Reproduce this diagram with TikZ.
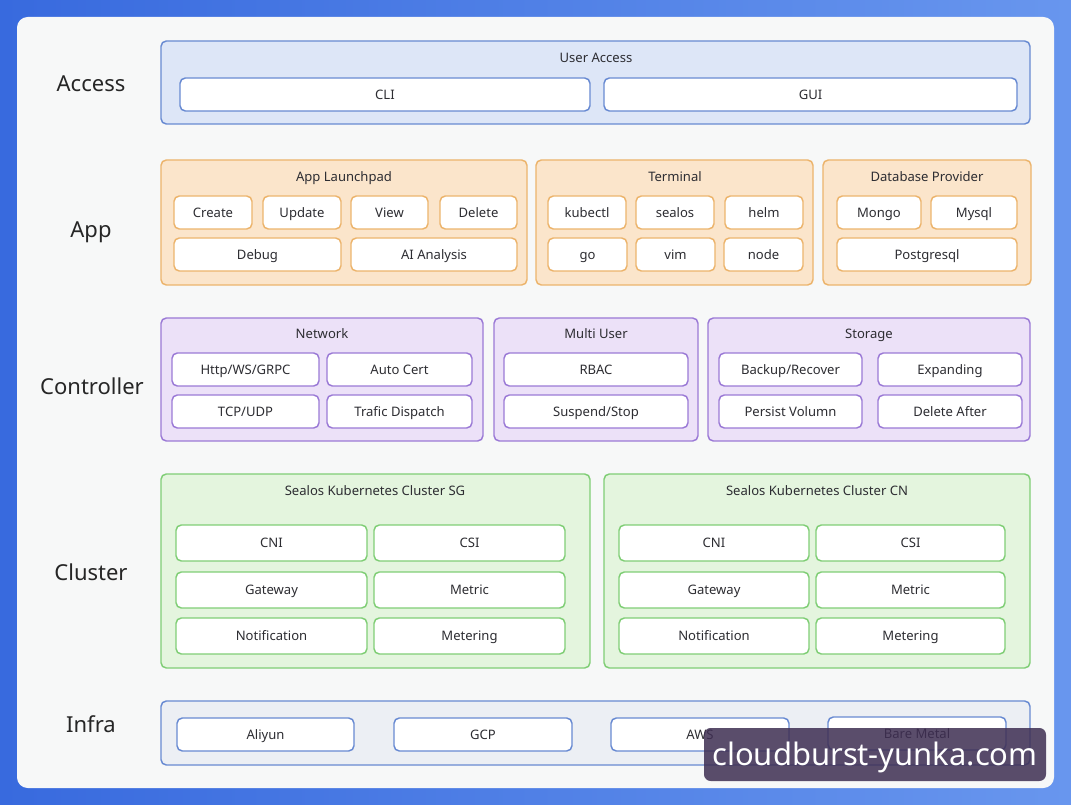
\documentclass[tikz,border=0pt]{standalone}
\usepackage{fontspec}
\setmainfont{Noto Sans}
\definecolor{bgL}{RGB}{56,106,222}
\definecolor{bgR}{RGB}{104,150,238}
\definecolor{panel}{RGB}{247,248,248}
\definecolor{txt}{RGB}{45,45,50}
\definecolor{blueF}{RGB}{221,230,247}
\definecolor{blueD}{RGB}{104,138,210}
\definecolor{orangeF}{RGB}{251,229,203}
\definecolor{orangeD}{RGB}{236,180,108}
\definecolor{purpleF}{RGB}{236,225,248}
\definecolor{purpleD}{RGB}{155,122,214}
\definecolor{greenF}{RGB}{228,245,222}
\definecolor{greenD}{RGB}{128,206,118}
\definecolor{infraF}{RGB}{236,239,244}
\definecolor{infraD}{RGB}{104,138,210}
\definecolor{wmark}{RGB}{62,46,82}
\newcommand\bx[7]{%
  \pgfmathsetmacro\bxcx{(#2+#4)/2}%
  \pgfmathsetmacro\bxcy{(#3+#5)/2}%
  \pgfmathsetmacro\bxw{(#4-#2)*0.75}%
  \pgfmathsetmacro\bxh{(#5-#3)*0.75}%
  \node[#6, minimum width=\bxw pt, minimum height=\bxh pt] (#1) at (\bxcx,\bxcy) {#7};}
\tikzset{
  x=0.75pt, y=-0.75pt,
  every node/.style={text=txt, font=\fontsize{9.8}{12}\selectfont, text height=7pt, text depth=0pt},
  grp/.style={draw=#1D, fill=#1F, line width=1.1pt, rounded corners=4pt, inner sep=0pt, outer sep=0pt},
  ibox/.style={draw=#1D, fill=white, line width=1.1pt, rounded corners=4pt, inner sep=0pt, outer sep=0pt},
  gtitle/.style={font=\fontsize{9.8}{12}\selectfont},
  layer/.style={font=\fontsize{16.5}{19}\selectfont, text=black!85, text height=11.8pt},
}
\begin{document}
\begin{tikzpicture}
\shade[left color=bgL, right color=bgR] (0,0) rectangle (1071,805);
\useasboundingbox (0,0) rectangle (1071,805);
\fill[panel, rounded corners=8pt] (17,17) rectangle (1054,788);

% layer labels
\node[layer] (lAccess) at (91,84) {Access};
\node[layer] (lApp) at (91,230) {App};
\node[layer] (lController) at (92,387) {Controller};
\node[layer] (lCluster) at (91,573) {Cluster};
\node[layer] (lInfra) at (91,725) {Infra};

% Access
\bx{access}{161}{41}{1030}{124}{grp=blue}{}
\node[gtitle] (accessT) at (596,58) {User Access};
\bx{cli}{180}{78}{590}{111}{ibox=blue}{CLI}
\bx{gui}{604}{78}{1017}{111}{ibox=blue}{GUI}

% App
\bx{launch}{161}{160}{527}{285}{grp=orange}{}
\node[gtitle] (launchT) at (344,177) {App Launchpad};
\bx{create}{174}{196}{252}{229}{ibox=orange}{Create}
\bx{update}{263}{196}{341}{229}{ibox=orange}{Update}
\bx{view}{351}{196}{428}{229}{ibox=orange}{View}
\bx{delete}{440}{196}{517}{229}{ibox=orange}{Delete}
\bx{debug}{174}{238}{341}{271}{ibox=orange}{Debug}
\bx{ai}{351}{238}{517}{271}{ibox=orange}{AI Analysis}

\bx{term}{536}{160}{813}{285}{grp=orange}{}
\node[gtitle] (termT) at (675,177) {Terminal};
\bx{kubectl}{548}{196}{626}{229}{ibox=orange}{kubectl}
\bx{sealos}{636}{196}{714}{229}{ibox=orange}{sealos}
\bx{helm}{725}{196}{803}{229}{ibox=orange}{helm}
\bx{go}{548}{238}{627}{271}{ibox=orange}{go}
\bx{vim}{636}{238}{715}{271}{ibox=orange}{vim}
\bx{nodeB}{724}{238}{803}{271}{ibox=orange}{node}

\bx{db}{823}{160}{1031}{285}{grp=orange}{}
\node[gtitle] (dbT) at (927,177) {Database Provider};
\bx{mongo}{837}{196}{921}{229}{ibox=orange}{Mongo}
\bx{mysql}{931}{196}{1017}{229}{ibox=orange}{Mysql}
\bx{pg}{837}{238}{1017}{271}{ibox=orange}{Postgresql}

% Controller
\bx{net}{161}{318}{483}{441}{grp=purple}{}
\node[gtitle] (netT) at (322,334) {Network};
\bx{http}{172}{353}{319}{386}{ibox=purple}{Http/WS/GRPC}
\bx{cert}{327}{353}{472}{386}{ibox=purple}{Auto Cert}
\bx{tcp}{172}{395}{319}{428}{ibox=purple}{TCP/UDP}
\bx{trafic}{327}{395}{472}{428}{ibox=purple}{Trafic Dispatch}

\bx{multi}{494}{318}{698}{441}{grp=purple}{}
\node[gtitle] (multiT) at (596,334) {Multi User};
\bx{rbac}{504}{353}{688}{386}{ibox=purple}{RBAC}
\bx{susp}{504}{395}{688}{428}{ibox=purple}{Suspend/Stop}

\bx{stor}{708}{318}{1030}{441}{grp=purple}{}
\node[gtitle] (storT) at (869,334) {Storage};
\bx{backup}{719}{353}{862}{386}{ibox=purple}{Backup/Recover}
\bx{expand}{878}{353}{1022}{386}{ibox=purple}{Expanding}
\bx{persist}{719}{395}{862}{428}{ibox=purple}{Persist Volumn}
\bx{delafter}{878}{395}{1022}{428}{ibox=purple}{Delete After}

% Cluster
\bx{sg}{161}{474}{590}{668}{grp=green}{}
\node[gtitle] (sgT) at (375,491) {Sealos Kubernetes Cluster SG};
\bx{sgcni}{176}{525}{367}{561}{ibox=green}{CNI}
\bx{sgcsi}{374}{525}{565}{561}{ibox=green}{CSI}
\bx{sggw}{176}{572}{367}{608}{ibox=green}{Gateway}
\bx{sgmet}{374}{572}{565}{608}{ibox=green}{Metric}
\bx{sgnot}{176}{618}{367}{654}{ibox=green}{Notification}
\bx{sgmeter}{374}{618}{565}{654}{ibox=green}{Metering}

\bx{cn}{604}{474}{1030}{668}{grp=green}{}
\node[gtitle] (cnT) at (817,491) {Sealos Kubernetes Cluster CN};
\bx{cncni}{619}{525}{809}{561}{ibox=green}{CNI}
\bx{cncsi}{816}{525}{1005}{561}{ibox=green}{CSI}
\bx{cngw}{619}{572}{809}{608}{ibox=green}{Gateway}
\bx{cnmet}{816}{572}{1005}{608}{ibox=green}{Metric}
\bx{cnnot}{619}{618}{809}{654}{ibox=green}{Notification}
\bx{cnmeter}{816}{618}{1005}{654}{ibox=green}{Metering}

% Infra
\bx{infra}{161}{701}{1030}{765}{grp=infra}{}
\bx{aliyun}{177}{718}{354}{751}{ibox=blue}{Aliyun}
\bx{gcp}{394}{718}{572}{751}{ibox=blue}{GCP}
\bx{aws}{611}{718}{789}{751}{ibox=blue}{AWS}
\bx{bare}{828}{717}{1006}{750}{ibox=blue}{Bare Metal}

% watermark
\bx{wm}{704}{728}{1046}{781}{fill=wmark, fill opacity=0.85, text opacity=1, rounded corners=5pt, inner sep=0pt, text=white, font=\fontsize{23.2}{27}\selectfont, text height=16.5pt}{cloudburst-yunka.com}
\end{tikzpicture}
\end{document}
